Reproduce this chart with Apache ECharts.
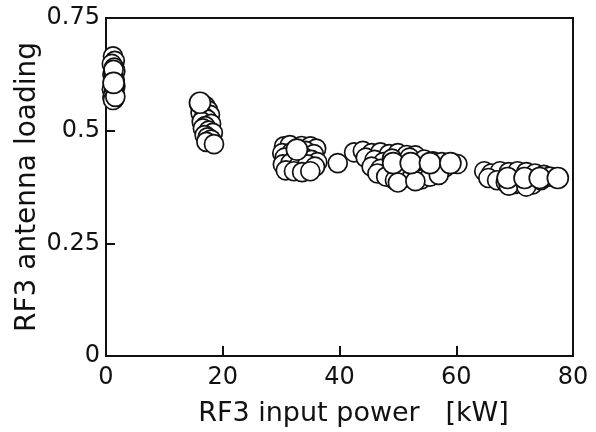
<!DOCTYPE html>
<html><head><meta charset="utf-8">
<script src="https://cdn.jsdelivr.net/npm/echarts@6/dist/echarts.min.js"></script>
<style>html,body{margin:0;padding:0;background:#fff}#c{width:596px;height:432px}</style>
</head><body><div id="c"></div>
<script>
// RF3 input power [kW] and RF3 antenna loading
const power = [
 1.2,1.5,1.0,1.4,1.6,1.1,1.3,1.5,1.2,1.6,1.0,1.4,1.3,1.5,1.1,1.4,1.2,1.6,1.3,
 16.0,17.0,16.5,17.5,16.2,17.8,16.8,17.3,16.4,18.0,17.0,16.6,17.6,18.3,16.9,17.4,18.0,17.2,18.5,
 30.5,31.5,33.5,35.0,36.0,30.2,31.8,34.2,35.6,30.6,32.4,33.8,35.2,36.2,30.3,31.6,33.0,34.5,35.8,30.8,32.2,33.6,35.0,
 39.7,
 42.5,44.0,45.5,47.0,48.5,50.0,51.5,53.0,44.5,46.0,47.5,49.0,52.0,54.5,56.0,57.5,59.0,60.2,45.5,47.0,48.5,50.5,52.5,54.0,56.0,58.0,46.5,48.0,49.5,51.0,52.5,54.0,55.5,57.0,50.0,53.0,
 64.8,66.0,67.5,69.0,70.5,72.0,73.5,75.0,65.5,67.0,68.5,70.0,71.5,73.0,74.5,69.0,72.0,76.0
];
const loading = [
 0.665,0.655,0.648,0.64,0.632,0.625,0.62,0.612,0.605,0.598,0.592,0.588,0.582,0.578,0.574,0.57,0.568,0.575,0.635,
 0.56,0.555,0.55,0.545,0.54,0.535,0.53,0.525,0.52,0.515,0.51,0.505,0.50,0.495,0.49,0.485,0.48,0.475,0.47,
 0.465,0.468,0.466,0.465,0.46,0.45,0.452,0.455,0.448,0.44,0.438,0.442,0.435,0.43,0.425,0.428,0.422,0.425,0.42,0.412,0.41,0.408,0.41,
 0.428,
 0.452,0.455,0.45,0.452,0.448,0.45,0.446,0.445,0.44,0.435,0.43,0.438,0.44,0.436,0.432,0.43,0.428,0.426,0.42,0.415,0.41,0.415,0.418,0.412,0.415,0.418,0.405,0.398,0.39,0.395,0.40,0.392,0.398,0.402,0.385,0.388,
 0.41,0.405,0.41,0.408,0.41,0.408,0.405,0.402,0.395,0.39,0.385,0.382,0.385,0.38,0.39,0.378,0.376,0.398
];
// front (clearly visible) circles
const powerFront = [1.3, 16.1, 32.7, 49.2, 52.2, 55.5, 59.0, 68.8, 71.7, 74.3, 77.4];
const loadingFront = [0.606, 0.562, 0.458, 0.428, 0.428, 0.428, 0.428, 0.395, 0.395, 0.395, 0.395];
const xTicks = [0, 20, 40, 60, 80];
const yTicks = [0, 0.25, 0.5, 0.75];

const chart = echarts.init(document.getElementById('c'));
const font = 'DejaVu Sans';
const circ = {color:'#fff', borderColor:'#111', borderWidth:1.7, opacity:1};
chart.setOption({
  animation:false,
  grid:{left:106, right:23, top:18, bottom:76, show:true, borderColor:'#111', borderWidth:2, backgroundColor:'transparent'},
  xAxis:{type:'value', min:xTicks[0], max:xTicks[xTicks.length-1], interval:20,
    name:'RF3 input power   [kW]', nameLocation:'middle', nameGap:44, nameMoveOverlap:false,
    nameTextStyle:{fontFamily:font, fontSize:27, color:'#111', padding:[0,0,0,28]},
    axisLine:{lineStyle:{color:'#111', width:2}},
    axisTick:{inside:true, length:10, lineStyle:{color:'#111', width:2}},
    axisLabel:{fontFamily:font, fontSize:24, color:'#111', margin:10, showMinLabel:true, showMaxLabel:true},
    splitLine:{show:false}},
  yAxis:{type:'value', min:yTicks[0], max:yTicks[yTicks.length-1], interval:0.25,
    name:'RF3 antenna loading', nameLocation:'middle', nameGap:64, nameMoveOverlap:false,
    nameTextStyle:{fontFamily:font, fontSize:28, color:'#111'},
    axisLine:{lineStyle:{color:'#111', width:2}},
    axisTick:{inside:true, length:9, lineStyle:{color:'#111', width:2}},
    axisLabel:{fontFamily:font, fontSize:24, color:'#111', margin:6,
      formatter:v=>v===0?'0':String(v)},
    splitLine:{show:false}},
  series:[
    {type:'scatter', symbol:'circle', symbolSize:19, data:power.map((x,i)=>[x,loading[i]]), itemStyle:circ, silent:true},
    {type:'scatter', symbol:'circle', symbolSize:21, data:powerFront.map((x,i)=>[x,loadingFront[i]]), itemStyle:circ, silent:true}
  ]
});
</script></body></html>
